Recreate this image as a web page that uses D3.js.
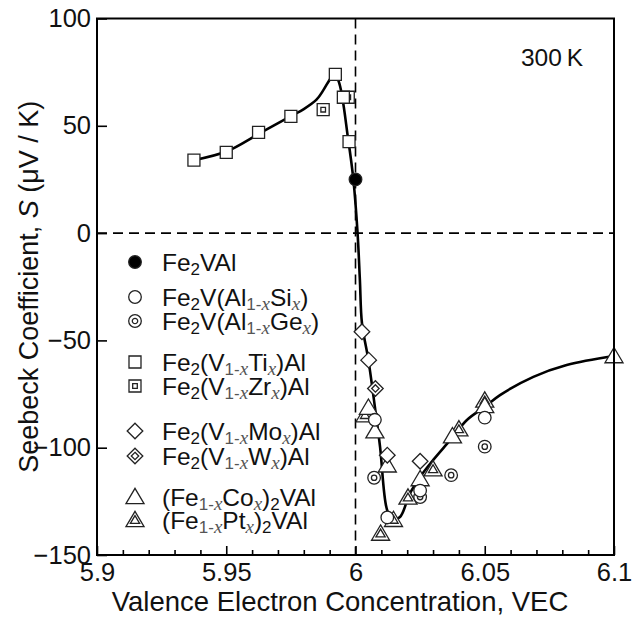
<!DOCTYPE html>
<html>
<head>
<meta charset="utf-8">
<script src="https://cdn.jsdelivr.net/npm/d3@7"></script>
<style>
body { margin: 0; background: #fff; }
text { font-family: "Liberation Sans", Arial, sans-serif; }
</style>
</head>
<body>
<script>
// data: VEC and Seebeck coefficient (uV/K), 300 K
var vecFe2VAl = [6.0], sFe2VAl = [25];
var vecSi = [6.0075, 6.0123, 6.025, 6.05], sSi = [-87, -132.5, -120, -86];
var vecGe = [6.0072, 6.025, 6.037, 6.05], sGe = [-114, -123, -112.8, -99.5];
var vecTi = [5.9375, 5.95, 5.9625, 5.975, 5.9922, 5.9953, 5.9975];
var sTi = [34, 37.6, 46.9, 54.4, 74, 63.3, 42.6];
var vecZr = [5.9875, 5.9972], sZr = [57.5, 63.3];
var vecMo = [6.0025, 6.0051, 6.0123, 6.025], sMo = [-46, -59.2, -103.5, -106.3];
var vecW = [6.0077], sW = [-72.4];
var vecCo = [6.005, 6.0075, 6.0123, 6.025, 6.0375, 6.05, 6.1];
var sCo = [-81.3, -92.3, -108.2, -114.6, -94.6, -80.5, -57.3];
var vecPt = [6.0037, 6.0097, 6.0147, 6.0203, 6.030, 6.040, 6.05];
var sPt = [-84.8, -140, -133.6, -123.2, -110, -91.4, -78];

// guide curve
var curveVec = [5.9375, 5.95, 5.9625, 5.975, 5.98, 5.985, 5.9875, 5.99, 5.9915, 5.9934, 5.9972, 5.9992, 6.0008,
  6.0017, 6.0025, 6.005, 6.0075, 6.0095, 6.012, 6.014, 6.0172, 6.021, 6.025, 6.030, 6.0366, 6.043, 6.05,
  6.0559, 6.0688, 6.0817, 6.1];
var curveS = [34, 38, 46.2, 54.5, 57.8, 62.3, 66.5, 71.5, 74, 71, 43.4, 24.7, 0,
  -21.9, -42, -59.2, -81, -99.6, -128, -133.5, -132.3, -121.4, -113.6, -105.8, -96.5, -87.2, -81,
  -75.5, -67, -61.5, -57.3];

var xTicksMajor = [5.9, 5.95, 6, 6.05, 6.1];
var xTicksMinor = [5.91, 5.92, 5.93, 5.94, 5.96, 5.97, 5.98, 5.99, 6.01, 6.02, 6.03, 6.04, 6.06, 6.07, 6.08, 6.09];
var yTicks = [-150, -100, -50, 0, 50, 100];

// legend labels: [text, style] n = normal, s = subscript, g = grey subscript, i = italic serif subscript
var legendItems = [
  {shape: "fcircle", parts: [["Fe", "n"], ["2", "s"], ["VAl", "n"]]},
  {shape: "circle", parts: [["Fe", "n"], ["2", "s"], ["V(Al", "n"], ["1-", "g"], ["x", "i"], ["Si", "n"], ["x", "i"], [")", "n"]]},
  {shape: "dcircle", parts: [["Fe", "n"], ["2", "s"], ["V(Al", "n"], ["1-", "g"], ["x", "i"], ["Ge", "n"], ["x", "i"], [")", "n"]]},
  {shape: "square", parts: [["Fe", "n"], ["2", "s"], ["(V", "n"], ["1-", "g"], ["x", "i"], ["Ti", "n"], ["x", "i"], [")Al", "n"]]},
  {shape: "dsquare", parts: [["Fe", "n"], ["2", "s"], ["(V", "n"], ["1-", "g"], ["x", "i"], ["Zr", "n"], ["x", "i"], [")Al", "n"]]},
  {shape: "diamond", parts: [["Fe", "n"], ["2", "s"], ["(V", "n"], ["1-", "g"], ["x", "i"], ["Mo", "n"], ["x", "i"], [")Al", "n"]]},
  {shape: "ddiamond", parts: [["Fe", "n"], ["2", "s"], ["(V", "n"], ["1-", "g"], ["x", "i"], ["W", "n"], ["x", "i"], [")Al", "n"]]},
  {shape: "triangle", parts: [["(Fe", "n"], ["1-", "g"], ["x", "i"], ["Co", "n"], ["x", "i"], [")", "n"], ["2", "s"], ["VAl", "n"]]},
  {shape: "dtriangle", parts: [["(Fe", "n"], ["1-", "g"], ["x", "i"], ["Pt", "n"], ["x", "i"], [")", "n"], ["2", "s"], ["VAl", "n"]]}
];
var legendY = [262, 297, 321, 362, 386, 431, 456, 497, 520];

var W = 632, H = 623;
var margin = {top: 18.5, right: 18, bottom: 68, left: 97};
var width = W - margin.left - margin.right,
    height = H - margin.top - margin.bottom;

var svg = d3.select("body").append("svg")
    .attr("width", W)
    .attr("height", H);
var g = svg.append("g")
    .attr("transform", "translate(" + margin.left + "," + margin.top + ")");

var x = d3.scaleLinear().domain([5.9, 6.1]).range([0, width]);
var y = d3.scaleLinear().domain([-150, 100]).range([height, 0]);

// dashed guides
g.append("line").attr("x1", 0).attr("x2", width).attr("y1", y(0)).attr("y2", y(0))
    .attr("stroke", "#000").attr("stroke-width", 1.6).attr("stroke-dasharray", "10,6");
g.append("line").attr("x1", x(6)).attr("x2", x(6)).attr("y1", 0).attr("y2", height)
    .attr("stroke", "#000").attr("stroke-width", 1.6).attr("stroke-dasharray", "10,6");

// axes, ticks inward
var xAxis = g.append("g").attr("transform", "translate(0," + height + ")")
    .call(d3.axisBottom(x).tickValues(xTicksMajor).tickSize(-9).tickPadding(8)
      .tickFormat(function(d) { return d3.format("")(+d.toFixed(2)); }));
var xMinor = g.append("g").attr("transform", "translate(0," + height + ")")
    .call(d3.axisBottom(x).tickValues(xTicksMinor).tickSize(-5).tickFormat(""));
var yAxis = g.append("g")
    .call(d3.axisLeft(y).tickValues(yTicks).tickSize(-10).tickPadding(6));
[xAxis, xMinor, yAxis].forEach(function(a) {
  a.select(".domain").remove();
  a.selectAll(".tick line").attr("stroke", "#000").attr("stroke-width", 1.6);
  a.selectAll("text").attr("font-size", 25.5).attr("fill", "#111")
    .attr("font-family", "'Liberation Sans', Arial, sans-serif");
});

// guide curve
var line = d3.line()
    .x(function(d) { return x(d[0]); })
    .y(function(d) { return y(d[1]); })
    .curve(d3.curveCatmullRom.alpha(0.5));
g.append("path")
    .attr("d", line(d3.zip(curveVec, curveS)))
    .attr("fill", "none").attr("stroke", "#000").attr("stroke-width", 2.6);

// marker shapes
function shapePath(shape, cx, cy) {
  var p = d3.path();
  function sq(h) { p.rect(cx - h, cy - h, 2 * h, 2 * h); }
  function ci(r) { p.moveTo(cx + r, cy); p.arc(cx, cy, r, 0, 2 * Math.PI); }
  function di(h) { p.moveTo(cx, cy - h); p.lineTo(cx + h, cy); p.lineTo(cx, cy + h); p.lineTo(cx - h, cy); p.closePath(); }
  function tr(h) { p.moveTo(cx, cy - h); p.lineTo(cx + h * 1.05, cy + h * 0.78); p.lineTo(cx - h * 1.05, cy + h * 0.78); p.closePath(); }
  if (shape === "circle" || shape === "fcircle") ci(6.3);
  if (shape === "dcircle") { ci(6.3); ci(2.7); }
  if (shape === "square") sq(6);
  if (shape === "dsquare") { sq(6); sq(2.3); }
  if (shape === "diamond") di(7.8);
  if (shape === "ddiamond") { di(7.8); di(3.7); }
  if (shape === "triangle") tr(8.6);
  if (shape === "dtriangle") { tr(8.6); tr(4.4); }
  return p.toString();
}

var series = [
  ["dtriangle", vecPt, sPt],
  ["triangle", vecCo, sCo],
  ["dcircle", vecGe, sGe],
  ["circle", vecSi, sSi],
  ["ddiamond", vecW, sW],
  ["diamond", vecMo, sMo],
  ["dsquare", vecZr, sZr],
  ["square", vecTi, sTi],
  ["fcircle", vecFe2VAl, sFe2VAl]
];
series.forEach(function(s) {
  g.append("g").selectAll("path")
    .data(d3.zip(s[1], s[2]))
    .enter().append("path")
      .attr("d", function(d) { return shapePath(s[0], x(d[0]), y(d[1])); })
      .attr("fill", s[0] === "fcircle" ? "#000" : "#fff")
      .attr("stroke", "#222").attr("stroke-width", 1.3);
});

// frame
g.append("rect").attr("width", width).attr("height", height)
    .attr("fill", "none").attr("stroke", "#000").attr("stroke-width", 2);

// legend
legendItems.forEach(function(item, i) {
  var ly = legendY[i];
  svg.append("path")
    .attr("d", shapePath(item.shape, 135, ly))
    .attr("fill", item.shape === "fcircle" ? "#000" : "#fff")
    .attr("stroke", "#222").attr("stroke-width", 1.3);
  var t = svg.append("text").attr("x", 162).attr("y", ly + 9)
    .attr("font-size", 24.5).attr("fill", "#111");
  item.parts.forEach(function(pt) {
    var span = t.append("tspan").text(pt[0]);
    if (pt[1] !== "n") {
      span.attr("font-size", 17).attr("baseline-shift", "-4");
      if (pt[1] === "g") span.attr("fill", "#555");
      if (pt[1] === "i") span.attr("fill", "#555").attr("font-style", "italic")
        .attr("font-family", "'Liberation Serif', 'Times New Roman', serif").attr("font-size", 19);
    }
  });
});

// annotation
svg.append("text").attr("x", 583).attr("y", 66).attr("text-anchor", "end")
    .attr("font-size", 24.5).attr("fill", "#111").text("300\u2009K");

// axis titles
svg.append("text").attr("x", 340).attr("y", 611)
    .attr("text-anchor", "middle").attr("font-size", 27.5).attr("fill", "#111")
    .text("Valence Electron Concentration, VEC");
var yl = svg.append("text")
    .attr("transform", "translate(38," + (margin.top + height / 2) + ") rotate(-90)")
    .attr("text-anchor", "middle").attr("font-size", 27).attr("fill", "#111");
yl.append("tspan").text("Seebeck Coefficient, ");
yl.append("tspan").attr("font-style", "italic").text("S");
yl.append("tspan").text(" (\u03bcV / K)");
</script>
</body>
</html>
